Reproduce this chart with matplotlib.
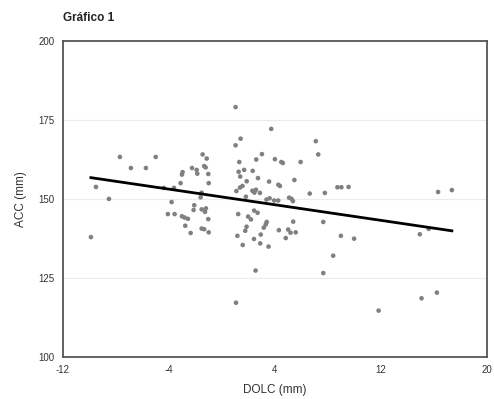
import matplotlib.pyplot as plt
import numpy as np

plt.rcParams['font.family'] = ['Liberation Sans', 'DejaVu Sans']
plt.rcParams['axes.unicode_minus'] = False

# DOLC (mm) and ACC (mm)
dolc = [
    -9.89, -9.51, -8.53, -7.70, -6.87, -5.74, -5.00, -4.38, -3.62, -4.08,
    -3.57, -3.80, -3.12, -2.97, -3.02, -3.02, -2.82, -2.57, -2.77, -2.36,
    -2.26, -1.91, -1.86, -1.46, -1.15, -1.34, -1.23, -1.03, -1.00, -1.53,
    -1.61, -2.09, -2.14, -1.53, -1.21, -1.28, -1.03, -1.53, -1.34, -1.00,
    1.03, 3.72, 1.41, 1.03, 7.09, 7.27, 3.02, 2.59, 4.00, 4.48,
    4.60, 5.94, 1.31, 1.26, 1.68, 1.38, 2.32, 2.72, 1.87, 3.56,
    5.47, 4.26, 4.38, 1.55, 1.36, 1.09, 2.30, 2.57, 2.87, 2.45,
    1.81, 3.36, 3.60, 3.94, 4.25, 5.07, 5.26, 5.36, 6.63, 7.77,
    1.23, 1.98, 2.19, 2.43, 2.69, 3.38, 3.31, 5.38, 7.65, 1.86,
    1.76, 3.16, 4.30, 5.00, 5.18, 5.57, 1.17, 2.42, 2.93, 2.89,
    1.57, 3.52, 4.82, 2.54, 1.06, 7.65, 8.40, 11.83, 15.07, 16.23,
    8.72, 9.02, 9.56, 16.32, 17.36, 8.98, 9.98, 14.94, 15.61,
]
acc = [
    138.0, 153.9, 150.1, 163.4, 159.9, 159.9, 163.4, 153.6, 153.6, 145.3,
    145.3, 149.1, 155.1, 158.6, 157.8, 144.6, 144.2, 143.8, 141.6, 139.3,
    159.9, 159.3, 158.1, 164.2, 162.9, 160.5, 160.1, 158.0, 155.1, 152.1,
    150.6, 148.1, 146.6, 146.8, 147.1, 146.0, 143.7, 140.7, 140.5, 139.5,
    179.2, 172.3, 169.2, 167.1, 168.4, 164.2, 164.3, 162.6, 162.7, 161.8,
    161.5, 161.8, 161.8, 158.7, 159.3, 157.2, 159.0, 156.7, 155.7, 155.6,
    156.1, 154.6, 154.2, 154.2, 153.7, 152.6, 152.7, 153.0, 152.0, 152.1,
    150.8, 149.9, 150.3, 149.6, 149.6, 150.5, 150.1, 149.4, 151.8, 152.0,
    145.3, 144.5, 143.6, 146.4, 145.7, 142.8, 142.0, 142.9, 142.8, 141.3,
    140.0, 141.0, 140.2, 140.4, 139.4, 139.5, 138.4, 137.4, 138.8, 136.0,
    135.5, 135.0, 137.7, 127.4, 117.2, 126.6, 132.1, 114.7, 118.6, 120.4,
    153.8, 153.8, 153.9, 152.3, 152.9, 138.4, 137.5, 138.9, 140.6,
]

x_ticks = [-12, -4, 4, 12, 20]
y_ticks = [100, 125, 150, 175, 200]

x = np.array(dolc)
y = np.array(acc)

fig = plt.figure(figsize=(4.94, 3.99), dpi=100)
ax = fig.add_axes([0.1275, 0.1053, 0.858, 0.7907])

ax.scatter(x, y, s=11, color='#808080', edgecolors='none', zorder=3)

# linear trend line
slope, intercept = np.polyfit(x, y, 1)
xl = np.array([x.min(), x.max()])
ax.plot(xl, intercept + slope * xl, color='black', linewidth=2, zorder=4)

ax.set_xlim(-12, 20)
ax.set_ylim(100, 200)
ax.set_xticks(x_ticks)
ax.set_yticks(y_ticks)
ax.tick_params(length=0, labelsize=7, colors='#333333', pad=6)
ax.yaxis.grid(True, color='#ebebeb', linewidth=0.8)
ax.set_axisbelow(True)
for s in ax.spines.values():
    s.set_color('#555555')
    s.set_linewidth(1.3)

ax.set_xlabel('DOLC (mm)', fontsize=8.5, color='#333333', labelpad=6)
ax.set_ylabel('ACC (mm)', fontsize=8.5, color='#333333', labelpad=8)
fig.text(0.1275, 0.955, 'Gráfico 1', fontsize=8.5, fontweight='bold', color='#222222',
         ha='left', va='center')

fig.savefig('out.png', dpi=100)
